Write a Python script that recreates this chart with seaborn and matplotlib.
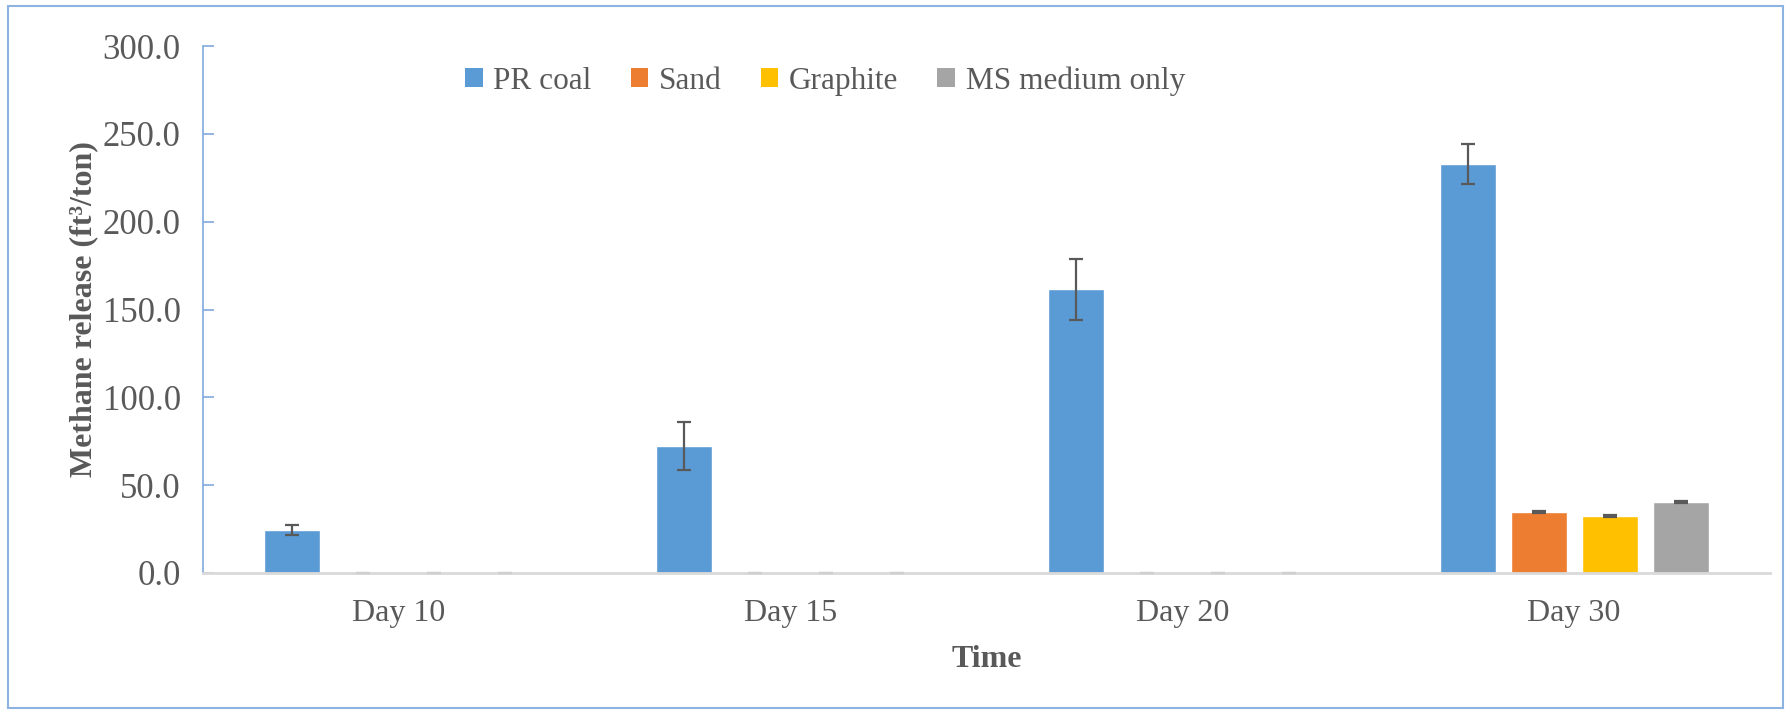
import matplotlib
matplotlib.use("Agg")
import matplotlib.pyplot as plt
from matplotlib.patches import Rectangle
import numpy as np
import pandas as pd
import seaborn as sns

# Methane release per sampling day and substrate (ft3/ton), with standard deviations
days = ["Day 10", "Day 15", "Day 20", "Day 30"]
substrates = ["PR coal", "Sand", "Graphite", "MS medium only"]
pr_coal = [24.6, 72.2, 161.5, 232.8]
sand = [0.0, 0.0, 0.0, 34.8]
graphite = [0.0, 0.0, 0.0, 32.4]
ms_medium = [0.0, 0.0, 0.0, 40.4]
pr_coal_sd = [3.0, 13.6, 17.2, 11.4]
sand_sd = [0.0, 0.0, 0.0, 0.5]
graphite_sd = [0.0, 0.0, 0.0, 0.5]
ms_medium_sd = [0.0, 0.0, 0.0, 0.5]
y_ticks = [0, 50, 100, 150, 200, 250, 300]

palette = ["#5B9BD5", "#ED7D31", "#FFC000", "#A5A5A5"]
text_grey = "#595959"

values = [pr_coal, sand, graphite, ms_medium]
errors = [pr_coal_sd, sand_sd, graphite_sd, ms_medium_sd]
df = pd.DataFrame({
    "Day": [d for _ in substrates for d in days],
    "Substrate": [s for s in substrates for _ in days],
    "Methane": [v for series in values for v in series],
})

sns.set_theme(style="white")
plt.rcParams["font.family"] = ["Liberation Serif", "DejaVu Serif"]

fig = plt.figure(figsize=(17.91, 7.14), dpi=100)
ax = fig.add_axes([0.1133, 0.1975, 0.875, 0.738])

sns.barplot(data=df, x="Day", y="Methane", hue="Substrate", order=days,
            hue_order=substrates, palette=palette, width=0.725, gap=0.21,
            errorbar=None, saturation=1, ax=ax, legend=False)

# Error bars; zero-height bars only leave a faint cap on the baseline
for container, errs in zip(ax.containers, errors):
    for patch, err in zip(container.patches, errs):
        cx = patch.get_x() + patch.get_width() / 2
        colour = text_grey if patch.get_height() > 0 else "#CFCFCF"
        ax.errorbar(cx, patch.get_height(), yerr=err, fmt="none",
                    ecolor=colour, elinewidth=1.6, capsize=4.7,
                    capthick=1.6, zorder=5, clip_on=False)

ax.set_ylim(0, 300)
ax.set_xlim(-0.5, 3.5)
ax.set_yticks(y_ticks)
ax.set_yticklabels([f"{t:.1f}" for t in y_ticks])
ax.tick_params(axis="y", direction="in", length=8, width=1.2,
               color="#7FAADC", labelsize=25, labelcolor=text_grey, pad=16, left=True)
ax.tick_params(axis="x", length=0, labelsize=23, labelcolor=text_grey, pad=19)

for side in ["top", "right"]:
    ax.spines[side].set_visible(False)
ax.spines["left"].set_color("#7FAADC")
ax.spines["left"].set_linewidth(1.2)
ax.spines["bottom"].set_color("#D9D9D9")
ax.spines["bottom"].set_linewidth(2)

ax.set_ylabel("Methane release (ft³/ton)", fontsize=23, fontweight="bold",
              color=text_grey, labelpad=3)
ax.set_xlabel("Time", fontsize=23, fontweight="bold", color=text_grey, labelpad=12)

handles = [Rectangle((0, 0), 1, 1, facecolor=c, edgecolor="none") for c in palette]
ax.legend(handles, substrates, loc="center", bbox_to_anchor=(0.397, 0.934),
          ncol=4, frameon=False, fontsize=22.5, handlelength=0.55, handleheight=0.55,
          handletextpad=0.35, columnspacing=1.25, labelcolor=text_grey)

# Chart-area border
fig.patches.append(Rectangle((8 / 1791, 6 / 714), 1 - 16 / 1791, 1 - 12 / 714,
                             transform=fig.transFigure, fill=False,
                             edgecolor="#8DB3E2", linewidth=1.5))

fig.savefig("out.png", dpi=100)
